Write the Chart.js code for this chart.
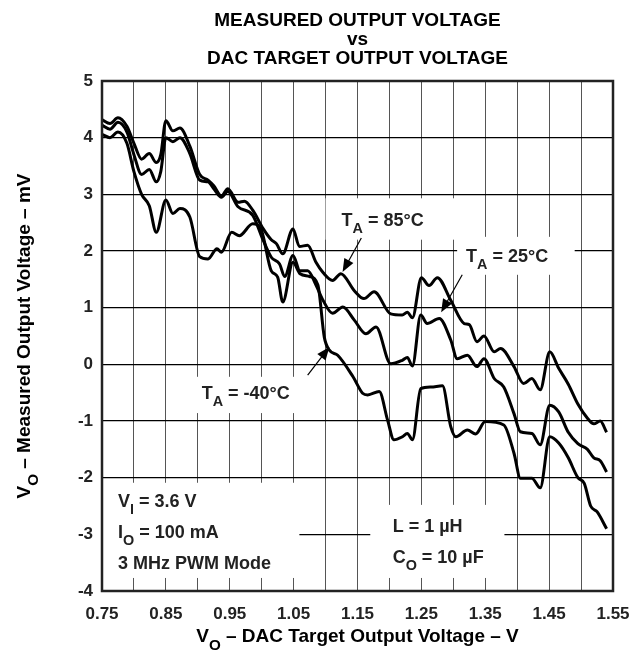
<!DOCTYPE html>
<html>
<head>
<meta charset="utf-8">
<script src="https://cdn.jsdelivr.net/npm/chart.js@4.4.1/dist/chart.umd.min.js"></script>
<style>
  body { margin: 0; background: #fff; }
  #grafico { display: block; }
</style>
</head>
<body>
<canvas id="grafico" width="644" height="660"></canvas>
<script>
// dados (x em V, y em mV)
var xTicks = [0.75, 0.85, 0.95, 1.05, 1.15, 1.25, 1.35, 1.45, 1.55];

var x85 = [0.75, 0.7625, 0.775, 0.789, 0.80, 0.812, 0.824, 0.835, 0.842, 0.85, 0.861, 0.872, 0.8875, 0.903, 0.916, 0.925, 0.937, 0.947, 0.963, 0.973, 0.986, 1.002, 1.015, 1.023, 1.033, 1.049, 1.059, 1.072, 1.085, 1.096, 1.111, 1.124, 1.145, 1.16, 1.176, 1.202, 1.22, 1.228, 1.236, 1.25, 1.262, 1.275, 1.296, 1.317, 1.325, 1.337, 1.348, 1.364, 1.374, 1.395, 1.41, 1.423, 1.436, 1.451, 1.465, 1.48, 1.495, 1.51, 1.52, 1.53, 1.54];
var y85 = [4.32, 4.25, 4.35, 4.2, 3.9, 3.62, 3.72, 3.56, 3.7, 4.3, 4.12, 4.17, 3.85, 3.35, 3.25, 3.15, 2.97, 3.1, 2.86, 2.88, 2.72, 2.4, 2.2, 2.13, 1.95, 2.39, 2.08, 2.1, 1.8, 1.62, 1.48, 1.6, 1.3, 1.16, 1.28, 0.89, 0.87, 0.92, 0.82, 1.53, 1.39, 1.53, 1.13, 0.72, 0.7, 0.4, 0.5, 0.22, 0.28, -0.04, -0.34, -0.25, -0.45, 0.22, -0.07, -0.35, -0.7, -0.95, -1.05, -1.0, -1.2];

var x25 = [0.75, 0.7625, 0.775, 0.789, 0.80, 0.812, 0.824, 0.835, 0.842, 0.85, 0.861, 0.872, 0.8875, 0.903, 0.916, 0.925, 0.937, 0.947, 0.963, 0.986, 1.002, 1.015, 1.028, 1.036, 1.049, 1.06, 1.072, 1.085, 1.096, 1.111, 1.127, 1.145, 1.163, 1.179, 1.202, 1.22, 1.228, 1.236, 1.249, 1.259, 1.278, 1.296, 1.306, 1.322, 1.337, 1.348, 1.364, 1.379, 1.395, 1.405, 1.423, 1.436, 1.451, 1.465, 1.48, 1.495, 1.51, 1.52, 1.53, 1.54];
var y25 = [4.22, 4.15, 4.27, 4.1, 3.7, 3.35, 3.44, 3.22, 3.4, 4.0, 3.93, 4.0, 3.72, 3.25, 3.22, 3.1, 2.95, 3.05, 2.78, 2.63, 2.2, 1.89, 1.77, 1.55, 1.92, 1.65, 1.65, 1.4, 1.13, 0.9, 1.01, 0.78, 0.54, 0.66, 0.01, 0.07, 0.12, -0.03, 0.87, 0.72, 0.81, 0.43, 0.1, 0.16, -0.04, 0.1, -0.25, -0.4, -0.87, -1.19, -1.22, -1.42, -0.72, -0.84, -1.2, -1.4, -1.5, -1.65, -1.7, -1.9];

var xM40 = [0.75, 0.7625, 0.775, 0.789, 0.80, 0.812, 0.824, 0.835, 0.85, 0.861, 0.872, 0.8875, 0.903, 0.916, 0.93, 0.937, 0.953, 0.965, 0.986, 1.0, 1.015, 1.025, 1.033, 1.049, 1.06, 1.075, 1.088, 1.098, 1.106, 1.119, 1.143, 1.158, 1.166, 1.184, 1.197, 1.207, 1.22, 1.228, 1.236, 1.249, 1.265, 1.283, 1.296, 1.304, 1.322, 1.335, 1.35, 1.379, 1.395, 1.405, 1.423, 1.436, 1.451, 1.465, 1.48, 1.495, 1.505, 1.515, 1.525, 1.54];
var yM40 = [4.06, 4.0, 4.1, 3.9, 3.4, 3.0, 2.8, 2.33, 2.9, 2.66, 2.75, 2.6, 1.9, 1.86, 2.04, 1.98, 2.33, 2.27, 2.48, 2.35, 1.65, 1.54, 1.1, 1.8, 1.6, 1.55, 1.4, 0.48, 0.25, 0.16, -0.22, -0.51, -0.54, -0.48, -0.98, -1.33, -1.28, -1.22, -1.33, -0.43, -0.4, -0.38, -1.1, -1.28, -1.16, -1.23, -1.01, -1.07, -1.57, -2.01, -2.01, -2.18, -1.28, -1.39, -1.65, -2.0, -2.1, -2.5, -2.6, -2.9];

function Pontos(xs, ys) {
    var p = [];
    for (var i = 0; i < xs.length; i++) p.push({ x: xs[i], y: ys[i] });
    return p;
}

var FONTE = '"Liberation Sans", Arial, sans-serif';

// texto com subscrito: partes = [[texto, sub], ...]
function TextoSub(ctx, partes, x, y, tam, alinhamento) {
    var total = 0;
    partes.forEach(function (p) {
        ctx.font = 'bold ' + (p[1] ? tam * 0.8 : tam) + 'px ' + FONTE;
        total += ctx.measureText(p[0]).width;
    });
    var cx = alinhamento === 'center' ? x - total / 2 : x;
    ctx.textAlign = 'left';
    ctx.textBaseline = 'alphabetic';
    partes.forEach(function (p) {
        ctx.font = 'bold ' + (p[1] ? tam * 0.8 : tam) + 'px ' + FONTE;
        ctx.fillText(p[0], cx, p[1] ? y + tam * 0.4 : y);
        cx += ctx.measureText(p[0]).width;
    });
}

function Seta(ctx, x1, y1, x2, y2) {
    var ang = Math.atan2(y2 - y1, x2 - x1);
    ctx.strokeStyle = '#000';
    ctx.lineWidth = 1.2;
    ctx.beginPath();
    ctx.moveTo(x1, y1);
    ctx.lineTo(x2 - Math.cos(ang) * 10, y2 - Math.sin(ang) * 10);
    ctx.stroke();
    ctx.beginPath();
    ctx.moveTo(x2, y2);
    ctx.lineTo(x2 - Math.cos(ang - 0.38) * 14, y2 - Math.sin(ang - 0.38) * 14);
    ctx.lineTo(x2 - Math.cos(ang + 0.38) * 14, y2 - Math.sin(ang + 0.38) * 14);
    ctx.closePath();
    ctx.fillStyle = '#000';
    ctx.fill();
}

var anotacoes = {
    id: 'anotacoes',
    beforeDatasetsDraw: function (chart) {
        var ctx = chart.ctx, sx = chart.scales.x, sy = chart.scales.y;
        ctx.save();
        ctx.fillStyle = '#fff';
        // caixas brancas atras dos textos
        [[1.10, 1.31, 2.93, 2.20], [1.306, 1.49, 2.25, 1.58], [0.88, 1.0875, -0.22, -0.86],
         [0.7515, 1.059, -2.09, -3.77], [1.17, 1.38, -2.48, -3.77]].forEach(function (b) {
            var l = sx.getPixelForValue(b[0]), r = sx.getPixelForValue(b[1]);
            var t = sy.getPixelForValue(b[2]), d = sy.getPixelForValue(b[3]);
            ctx.fillRect(l, t, r - l, d - t);
        });
        ctx.restore();
    },
    afterDatasetsDraw: function (chart) {
        var ctx = chart.ctx, sx = chart.scales.x, sy = chart.scales.y, a = chart.chartArea;
        ctx.save();
        ctx.strokeStyle = '#222';
        ctx.lineWidth = 2.5;
        ctx.strokeRect(a.left, a.top, a.right - a.left, a.bottom - a.top);
        ctx.fillStyle = '#222';
        function X(v) { return sx.getPixelForValue(v); }
        function Y(v) { return sy.getPixelForValue(v); }
        TextoSub(ctx, [['T', 0], ['A', 1], [' = 85\u00B0C', 0]], X(1.125), Y(2.44), 18);
        TextoSub(ctx, [['T', 0], ['A', 1], [' = 25\u00B0C', 0]], X(1.32), Y(1.81), 18);
        TextoSub(ctx, [['T', 0], ['A', 1], [' = -40\u00B0C', 0]], X(0.906), Y(-0.61), 18);
        TextoSub(ctx, [['V', 0], ['I', 1], [' = 3.6 V', 0]], X(0.775), Y(-2.52), 18);
        TextoSub(ctx, [['I', 0], ['O', 1], [' = 100 mA', 0]], X(0.775), Y(-3.06), 18);
        TextoSub(ctx, [['3 MHz PWM Mode', 0]], X(0.775), Y(-3.61), 18);
        TextoSub(ctx, [['L = 1 \u00B5H', 0]], X(1.205), Y(-2.96), 18);
        TextoSub(ctx, [['C', 0], ['O', 1], [' = 10 \u00B5F', 0]], X(1.205), Y(-3.5), 18);
        Seta(ctx, X(1.156), Y(2.23), X(1.1266), Y(1.63));
        Seta(ctx, X(1.314), Y(1.58), X(1.281), Y(0.92));
        Seta(ctx, X(1.072), Y(-0.19), X(1.106), Y(0.306));
        // titulos
        ctx.textAlign = 'center';
        ctx.font = 'bold 19px ' + FONTE;
        var cx = (a.left + a.right) / 2;
        ctx.fillText('MEASURED OUTPUT VOLTAGE', cx, 26);
        ctx.fillText('vs', cx, 45);
        ctx.fillText('DAC TARGET OUTPUT VOLTAGE', cx, 64);
        TextoSub(ctx, [['V', 0], ['O', 1], [' \u2013 DAC Target Output Voltage \u2013 V', 0]], cx, 642, 19, 'center');
        ctx.translate(30, (a.top + a.bottom) / 2);
        ctx.rotate(-Math.PI / 2);
        TextoSub(ctx, [['V', 0], ['O', 1], [' \u2013 Measured Output Voltage \u2013 mV', 0]], 0, 0, 19, 'center');
        ctx.restore();
    }
};

var ctx = document.getElementById('grafico').getContext('2d');

var grafico = new Chart(ctx, {
    type: 'line',
    data: {
        datasets: [
            { label: 'TA = 85°C', data: Pontos(x85, y85) },
            { label: 'TA = 25°C', data: Pontos(x25, y25) },
            { label: 'TA = -40°C', data: Pontos(xM40, yM40) }
        ]
    },
    options: {
        responsive: false,
        animation: false,
        layout: { padding: { left: 0, right: 31, top: 81, bottom: 0 } },
        elements: {
            line: { borderColor: '#000', borderWidth: 3, cubicInterpolationMode: 'monotone' },
            point: { radius: 0 }
        },
        plugins: { legend: { display: false }, tooltip: { enabled: false }, title: { display: false } },
        scales: {
            x: {
                type: 'linear',
                min: 0.75,
                max: 1.55,
                afterFit: function (s) { s.height = 69; },
                grid: { color: '#555', lineWidth: 1, drawTicks: false },
                border: { display: false },
                ticks: {
                    stepSize: 0.05,
                    maxTicksLimit: 100,
                    autoSkip: false,
                    maxRotation: 0,
                    padding: 13,
                    color: '#222',
                    font: { family: FONTE, size: 17, weight: 'bold' },
                    callback: function (v) {
                        var k = Math.round(v * 100);
                        return xTicks.indexOf(k / 100) >= 0 ? (k / 100).toFixed(2) : '';
                    }
                }
            },
            y: {
                min: -4,
                max: 5,
                afterFit: function (s) { s.width = 102; },
                grid: { color: '#000', lineWidth: 1.3, drawTicks: false },
                border: { display: false },
                ticks: {
                    stepSize: 1,
                    padding: 9,
                    color: '#222',
                    font: { family: FONTE, size: 17, weight: 'bold' }
                }
            }
        }
    },
    plugins: [anotacoes]
});
</script>
</body>
</html>
